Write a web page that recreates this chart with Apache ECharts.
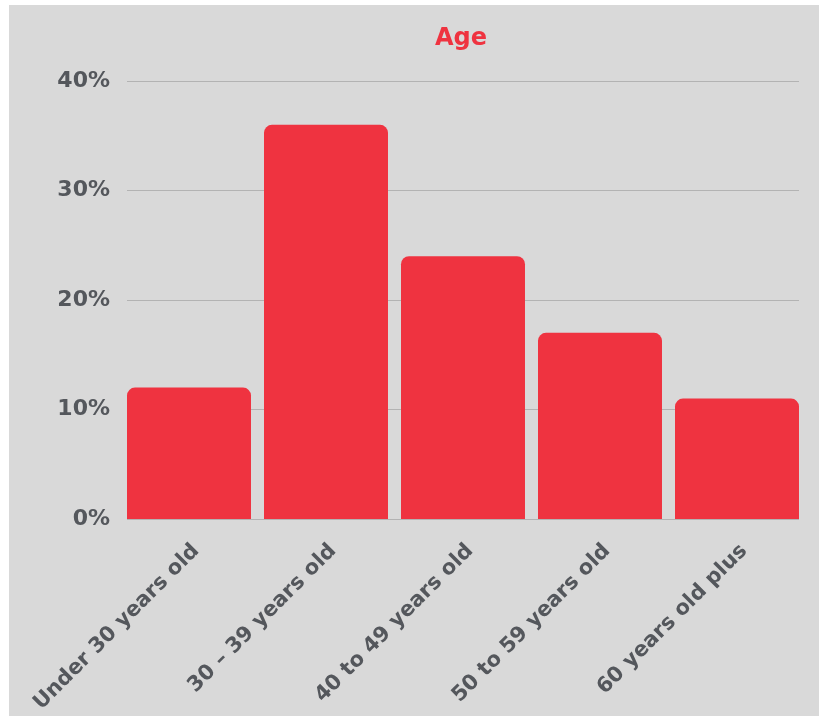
<!DOCTYPE html>
<html>
<head>
<meta charset="utf-8">
<script src="https://cdn.jsdelivr.net/npm/echarts@6/dist/echarts.min.js"></script>
<style>
  html, body { margin: 0; padding: 0; background: #ffffff; }
  #chart { width: 826px; height: 716px; }
</style>
</head>
<body>
<div id="chart"></div>
<script>
// Age distribution of respondents
const categories = ['Under 30 years old', '30 – 39 years old', '40 to 49 years old', '50 to 59 years old', '60 years old plus'];
const shares = [12, 36, 24, 17, 11];
const yTicks = [0, 10, 20, 30, 40];

const FONT = '"DejaVu Sans", sans-serif';
const TEXT = '#54575c';
const RED = '#ef3340';

const chart = echarts.init(document.getElementById('chart'), null, { renderer: 'canvas' });

const yMin = yTicks[0];
const yMax = yTicks[yTicks.length - 1];

chart.setOption({
  animation: false,
  backgroundColor: '#ffffff',
  graphic: [{
    type: 'rect', z: -10, silent: true,
    shape: { x: 9, y: 5, width: 810, height: 711 },
    style: { fill: '#d9d9d9' }
  }],
  title: {
    text: 'Age',
    left: 456, top: 22, textAlign: 'center',
    textStyle: { color: RED, fontFamily: FONT, fontWeight: 'bold', fontSize: 24 }
  },
  grid: [
    // gridlines and percentage labels
    { left: 127, top: 81, width: 672, height: 438, containLabel: false },
    // bars, flush with both ends of the gridlines
    { left: 120.5, top: 81, width: 685, height: 438, containLabel: false },
    // slanted category labels, nudged right of the bar centres
    { left: 127.5, top: 81, width: 685, height: 438, containLabel: false }
  ],
  xAxis: [
    { type: 'category', gridIndex: 0, data: categories, show: false },
    { type: 'category', gridIndex: 1, data: categories, show: false },
    {
      type: 'category', gridIndex: 2, data: categories,
      axisLine: { show: false }, axisTick: { show: false },
      axisLabel: {
        rotate: 45, margin: 29, interval: 0,
        color: TEXT, fontFamily: FONT, fontWeight: 'bold', fontSize: 21
      }
    }
  ],
  yAxis: [
    {
      type: 'value', gridIndex: 0, min: yMin, max: yMax, interval: 10,
      axisLine: { show: false }, axisTick: { show: false },
      axisLabel: {
        margin: 17, color: TEXT, fontFamily: FONT, fontWeight: 'bold', fontSize: 22,
        formatter: v => v + '%'
      },
      splitLine: { lineStyle: { color: '#b3b3b3', width: 1 } }
    },
    { type: 'value', gridIndex: 1, min: yMin, max: yMax, interval: 10, show: false, splitLine: { show: false } },
    { type: 'value', gridIndex: 2, min: yMin, max: yMax, interval: 10, show: false, splitLine: { show: false } }
  ],
  series: [{
    type: 'bar',
    xAxisIndex: 1, yAxisIndex: 1,
    data: shares,
    barCategoryGap: '9.5%',
    itemStyle: { color: RED, borderRadius: [8, 8, 0, 0] }
  }]
});
</script>
</body>
</html>
